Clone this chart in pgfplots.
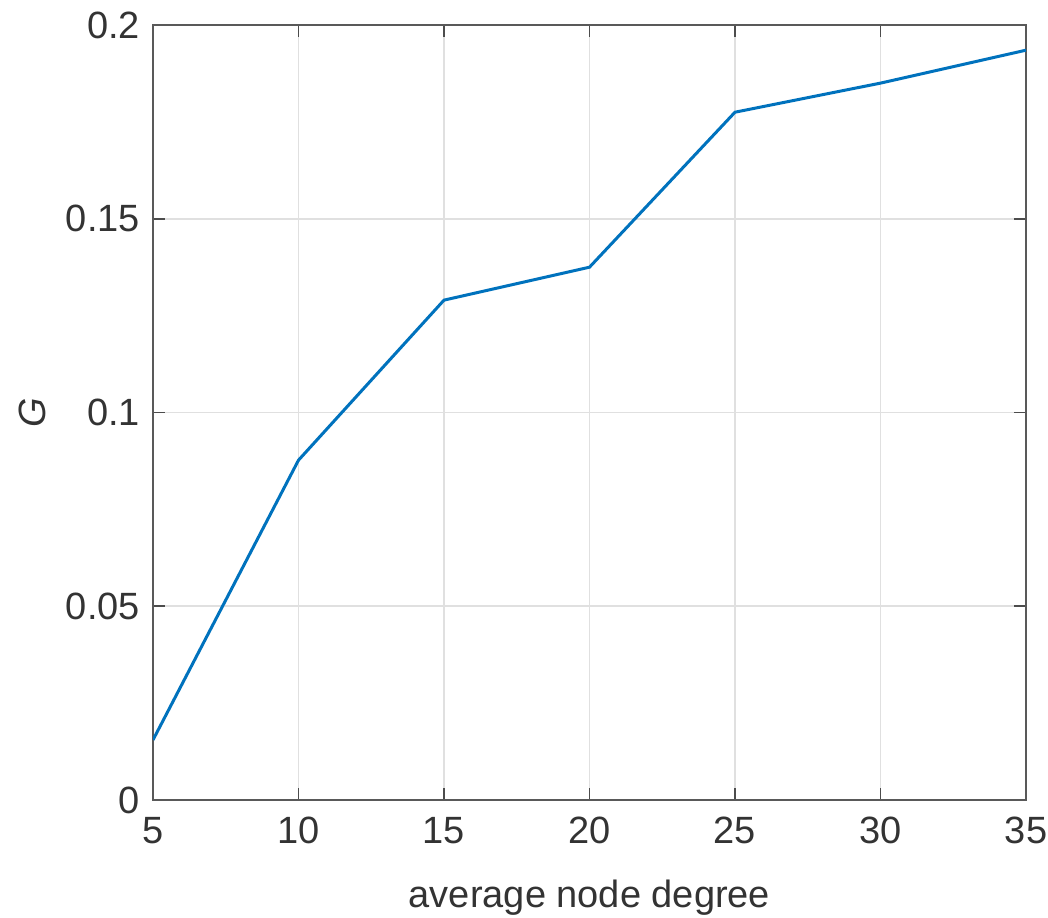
\documentclass[border=0pt]{standalone}
\usepackage{fontspec}
\setmainfont{Liberation Sans}
\usepackage{pgfplots}
\pgfplotsset{compat=1.18}
\definecolor{mblue}{rgb}{0,0.447,0.741}
\begin{document}
\begin{tikzpicture}
\begin{axis}[
  name=ax,
  scale only axis,
  width=436.5pt, height=387.5pt,
  xmin=5, xmax=35, ymin=0, ymax=0.2,
  xtick={5,10,15,20,25,30,35},
  ytick={0,0.05,0.1,0.15,0.2},
  yticklabels={0,0.05,0.1,0.15,0.2},
  tick align=inside,
  major tick length=6pt,
  tick style={color=black!70, line width=0.8pt},
  axis line style={color=black!65, line width=1pt},
  grid=major,
  grid style={color=black!12, line width=0.8pt},
  tick label style={font=\fontsize{19}{22}\selectfont, color=black!80},
  /pgf/number format/assume math mode=true,
  xticklabel style={yshift=-5pt},
  yticklabel style={xshift=-3pt},
  xlabel={average node degree},
  ylabel={\itshape G},
  label style={font=\fontsize{19}{22}\selectfont, color=black!80},
  xlabel style={yshift=-11pt},
  ylabel style={yshift=3pt},
]
\addplot[color=mblue, line width=1.5pt] coordinates {
  (5,0.0155) (10,0.0877) (15,0.129) (20,0.1375) (25,0.1775) (30,0.185) (35,0.1935)
};
\end{axis}
\pgfresetboundingbox
\path ([shift={(-76.5pt,-58.5pt)}]ax.south west) rectangle ([shift={(447.5pt,400pt)}]ax.south west);
\end{tikzpicture}
\end{document}
